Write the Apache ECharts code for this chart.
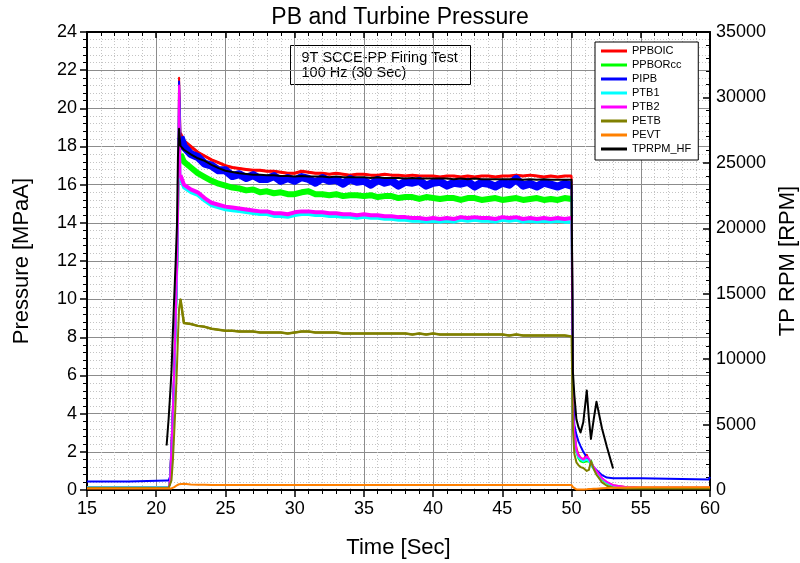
<!DOCTYPE html>
<html>
<head>
<meta charset="utf-8">
<script src="https://cdn.jsdelivr.net/npm/echarts@6/dist/echarts.min.js"></script>
<style>html,body{margin:0;padding:0;background:#fff;}#chart{width:800px;height:563px;}</style>
</head>
<body>
<div id="chart"></div>
<script>
// ---------- DATA ----------
const seriesNames = ['PPBOIC','PPBORcc','PIPB','PTB1','PTB2','PETB','PEVT','TPRPM_HF'];
const xTicks = [15,20,25,30,35,40,45,50,55,60];

// sample times [Sec]: start/rise | plateau | end/tail
const time = [
  15,18,18.05,20.75,20.9,21.0,21.1,21.2,21.3,21.4,21.5,21.57,21.65,21.75,
  22,22.5,23,23.5,24,24.5,25,25.5,26,26.5,27,27.5,28,28.5,29,29.5,30,30.5,31,31.5,32,32.5,33,33.5,34,34.5,
  35,35.5,36,36.5,37,37.5,38,38.5,39,39.5,40,40.5,41,41.5,42,42.5,43,43.5,44,44.5,45,45.5,46,46.5,47,47.5,
  48,48.5,49,49.5,50,
  50.1,50.2,50.35,50.5,50.65,50.85,51.1,51.25,51.4,51.6,51.8,52.2,52.55,53.0,54,55,55.1,59.9,60
];
// firing window (noisy, steady part of the test)
const firingStart = 21.75, firingEnd = 50;

// pressures [MPaA]
const ppboic = [
  0.15,0.15,0.15,0.15,0.15,0.5,2.2,4.1,6.2,8.7,11.4,14.2,21.6,18.7,
  18.3,18.0,17.7,17.5,17.3,17.15,17.0,16.9,16.85,16.8,16.75,16.75,16.7,16.7,16.65,16.6,16.6,16.7,16.65,16.6,
  16.6,16.55,16.6,16.55,16.5,16.55,16.55,16.5,16.5,16.55,16.5,16.5,16.45,16.5,16.45,16.45,16.45,16.4,16.45,
  16.45,16.4,16.45,16.4,16.45,16.45,16.4,16.45,16.45,16.5,16.45,16.5,16.45,16.4,16.45,16.4,16.45,16.45,
  4.6,3.1,2.2,1.85,1.7,1.6,1.85,1.55,1.35,1.15,0.95,0.6,0.4,0.25,0.15,0.12,0.12,0.12,0.12
];
const ppborcc = [
  0.15,0.15,0.15,0.15,0.15,0.45,2.1,4.0,6.0,8.5,11.2,13.9,20.0,17.6,
  17.2,16.9,16.6,16.4,16.2,16.05,15.95,15.85,15.8,15.7,15.75,15.6,15.65,15.55,15.6,15.5,15.5,15.6,15.65,15.5,
  15.5,15.45,15.5,15.4,15.45,15.45,15.4,15.45,15.35,15.4,15.4,15.3,15.35,15.35,15.25,15.35,15.3,15.25,15.3,
  15.3,15.2,15.3,15.3,15.2,15.25,15.3,15.2,15.25,15.3,15.2,15.25,15.3,15.2,15.25,15.2,15.3,15.25,
  4.2,2.8,2.0,1.65,1.5,1.45,1.5,1.5,1.55,1.15,0.9,0.55,0.35,0.2,0.12,0.1,0.1,0.1,0.1
];
const pipb = [
  0.45,0.45,0.5,0.5,0.5,0.7,2.3,4.2,6.3,8.8,11.5,14.3,21.4,18.5,
  18.0,17.6,17.45,17.1,17.0,16.75,16.75,16.45,16.55,16.35,16.5,16.3,16.3,16.45,16.2,16.35,16.2,16.4,16.3,16.1,
  16.35,16.2,16.25,16.05,16.3,16.15,16.2,16.0,16.25,16.1,16.2,15.95,16.15,16.1,16.2,15.95,16.1,16.15,15.95,
  16.1,16.05,16.15,15.9,16.1,16.05,15.9,16.1,16.0,16.3,15.95,16.05,15.9,16.1,16.0,15.9,16.05,15.95,
  5.2,3.4,2.9,2.55,2.3,2.0,1.7,1.55,1.4,1.2,1.05,0.78,0.65,0.62,0.62,0.62,0.55,0.55,0.68
];
const ptb1 = [
  0.15,0.15,0.15,0.15,0.15,0.45,2.0,3.9,5.9,8.4,11.1,13.8,20.5,16.3,
  15.85,15.6,15.45,15.15,14.9,14.8,14.7,14.65,14.6,14.55,14.5,14.45,14.45,14.35,14.35,14.3,14.4,14.45,14.45,14.4,
  14.4,14.35,14.35,14.3,14.3,14.25,14.3,14.25,14.25,14.2,14.2,14.15,14.15,14.1,14.1,14.05,14.1,14.05,14.1,
  14.05,14.15,14.1,14.15,14.1,14.1,14.05,14.15,14.1,14.15,14.05,14.1,14.05,14.1,14.05,14.1,14.05,14.05,
  4.0,2.8,2.0,1.7,1.6,1.5,1.6,1.5,1.3,1.1,0.9,0.58,0.38,0.22,0.12,0.1,0.1,0.1,0.1
];
const ptb2 = [
  0.12,0.12,0.12,0.12,0.12,0.5,2.2,4.1,6.3,8.8,11.5,14.2,21.2,16.5,
  16.0,15.75,15.6,15.3,15.05,14.95,14.85,14.8,14.75,14.7,14.65,14.6,14.6,14.5,14.5,14.45,14.55,14.6,14.6,14.55,
  14.55,14.5,14.5,14.45,14.45,14.4,14.45,14.4,14.4,14.35,14.35,14.3,14.3,14.25,14.25,14.2,14.25,14.2,14.25,
  14.2,14.3,14.25,14.3,14.25,14.25,14.2,14.3,14.25,14.3,14.2,14.25,14.2,14.25,14.2,14.25,14.2,14.25,
  4.3,3.0,2.1,1.8,1.7,1.6,1.75,1.65,1.45,1.2,1.0,0.62,0.42,0.25,0.14,0.12,0.12,0.12,0.12
];
const petb = [
  0.1,0.1,0.1,0.1,0.1,0.12,0.5,1.5,3.0,4.6,6.5,8.0,9.5,10.0,
  8.75,8.7,8.6,8.55,8.45,8.4,8.35,8.35,8.3,8.3,8.3,8.25,8.25,8.25,8.25,8.2,8.25,8.3,8.3,8.25,
  8.25,8.25,8.25,8.2,8.2,8.2,8.2,8.2,8.2,8.2,8.2,8.2,8.2,8.15,8.2,8.15,8.2,8.15,8.15,
  8.15,8.15,8.15,8.15,8.15,8.15,8.15,8.15,8.1,8.15,8.1,8.1,8.1,8.1,8.1,8.1,8.1,8.05,
  3.2,1.9,1.45,1.3,1.2,1.15,1.0,1.05,1.5,1.1,0.8,0.4,0.22,0.12,0.08,0.08,0.08,0.08,0.08
];
const pevt = [
  0.08,0.08,0.08,0.08,0.08,0.08,0.08,0.1,0.15,0.2,0.25,0.28,0.3,0.33,
  0.33,0.29,0.27,0.27,0.26,0.26,0.26,0.26,0.26,0.26,0.26,0.26,0.26,0.26,0.26,0.26,0.26,0.26,0.26,0.26,
  0.26,0.26,0.26,0.26,0.26,0.26,0.26,0.26,0.26,0.26,0.26,0.26,0.26,0.26,0.26,0.26,0.26,0.26,0.26,
  0.26,0.26,0.26,0.26,0.26,0.26,0.26,0.26,0.26,0.26,0.26,0.26,0.26,0.26,0.26,0.26,0.26,0.26,
  0.15,0.05,0.03,0.03,0.03,0.03,0.04,0.05,0.05,0.06,0.07,0.09,0.1,0.12,0.13,0.14,0.14,0.14,0.14
];
// turbine speed [RPM]
const tprpm = [
  null,null,null,3400,5500,7200,9000,12000,14700,17300,20300,25500,27600,26300,
  26000,25650,25350,25150,24850,24600,24400,24300,24200,24150,24100,24100,24050,24050,24000,24000,23950,24000,23950,23950,
  23950,23900,23950,23900,23900,23900,23900,23850,23900,23850,23850,23850,23800,23850,23800,23800,23800,23800,23800,
  23750,23800,23750,23800,23750,23750,23750,23750,23750,23750,23700,23750,23700,23750,23700,23700,23700,23700,
  9000,7300,5400,4800,4400,5200,7600,5500,3900,5400,6750,4700,3300,1650,null,null,null,null,null
];

const seriesValues = [ppboic, ppborcc, pipb, ptb1, ptb2, petb, pevt, tprpm];
const colors = ['#FF0000','#00FF00','#0000FF','#00FFFF','#FF00FF','#808000','#FF8000','#000000'];
const widths = [2, 2, 2, 2, 2, 2, 2, 2];
// thicker stroke during the noisy firing window (shows the band of 100 Hz scatter)
const bandWidths = [3, 6, 8, 3.5, 4, 2.5, 0, 0];

// ---------- CHART ----------
const FONT = 'Liberation Sans, Arial, sans-serif';
const chart = echarts.init(document.getElementById('chart'), null, {renderer: 'canvas'});

function pairs(vals, t0, t1) {
  const out = [];
  for (let i = 0; i < time.length; i++) {
    if (vals[i] === null || vals[i] === undefined) continue;
    if (t0 !== undefined && (time[i] < t0 || time[i] > t1)) continue;
    out.push([time[i], vals[i]]);
  }
  return out;
}

const series = [];
seriesNames.forEach((n, k) => {
  const base = {
    name: n, type: 'line', xAxisIndex: 0, yAxisIndex: k === 7 ? 1 : 0,
    showSymbol: false, symbol: 'none', animation: false, silent: true,
    itemStyle: {color: colors[k]}, z: 3
  };
  series.push(Object.assign({}, base, {
    data: pairs(seriesValues[k]),
    lineStyle: {color: colors[k], width: widths[k], join: 'round'}
  }));
  if (bandWidths[k] > 0) {
    series.push(Object.assign({}, base, {
      data: pairs(seriesValues[k], firingStart, firingEnd),
      lineStyle: {color: colors[k], width: bandWidths[k], join: 'round'}
    }));
  }
});

const tickLbl = {color: '#000', fontSize: 18, fontFamily: FONT};

chart.setOption({
  animation: false,
  backgroundColor: '#fff',
  title: {
    text: 'PB and Turbine Pressure', left: 'center', top: 1,
    textStyle: {fontSize: 23, fontWeight: 'normal', color: '#000', fontFamily: FONT}
  },
  grid: {left: 87, right: 90, top: 32, bottom: 73, show: false, containLabel: false, outerBoundsMode: 'none'},
  legend: {
    data: seriesNames, orient: 'vertical', left: 595, top: 42,
    padding: [2, 7, 4, 6], itemGap: 0, itemWidth: 26, itemHeight: 3, icon: 'rect',
    backgroundColor: '#fff', borderColor: '#000', borderWidth: 1,
    textStyle: {fontSize: 11, fontFamily: FONT, color: '#000', lineHeight: 14}
  },
  xAxis: [{
    type: 'value', min: 15, max: 60, interval: 5, position: 'bottom',
    name: 'Time [Sec]', nameLocation: 'middle', nameGap: 47,
    nameTextStyle: {fontSize: 22, fontFamily: FONT, color: '#000'},
    axisLine: {show: true, onZero: false, lineStyle: {color: '#000', width: 2}},
    axisTick: {show: true, inside: false, length: 7, lineStyle: {color: '#000', width: 1.5}},
    minorTick: {show: true, splitNumber: 5, length: 4, lineStyle: {color: '#000', width: 1}},
    axisLabel: Object.assign({margin: 10, formatter: v => xTicks.includes(v) ? String(v) : ''}, tickLbl),
    splitLine: {show: true, lineStyle: {color: '#8c8c8c', width: 1}},
    minorSplitLine: {show: true, lineStyle: {color: '#c4c4c4', width: 1, type: [1, 2]}}
  }, {
    type: 'value', min: 15, max: 60, interval: 5, position: 'top',
    axisLine: {show: true, onZero: false, lineStyle: {color: '#000', width: 2}},
    axisTick: {show: true, inside: true, length: 6, lineStyle: {color: '#000', width: 1.5}},
    minorTick: {show: true, splitNumber: 5, length: 4, lineStyle: {color: '#000', width: 1}},
    axisLabel: {show: false}, splitLine: {show: false}
  }],
  yAxis: [{
    type: 'value', min: 0, max: 24, interval: 2, position: 'left',
    name: 'Pressure [MPaA]', nameLocation: 'middle', nameGap: 54, nameRotate: 90,
    nameTextStyle: {fontSize: 22, fontFamily: FONT, color: '#000'},
    axisLine: {show: true, onZero: false, lineStyle: {color: '#000', width: 2}},
    axisTick: {show: true, inside: false, length: 7, lineStyle: {color: '#000', width: 1.5}},
    minorTick: {show: true, splitNumber: 5, length: 4, lineStyle: {color: '#000', width: 1}},
    axisLabel: Object.assign({margin: 10, formatter: v => String(v)}, tickLbl),
    splitLine: {show: true, lineStyle: {color: '#8c8c8c', width: 1}},
    minorSplitLine: {show: true, lineStyle: {color: '#c4c4c4', width: 1, type: [1, 2]}}
  }, {
    type: 'value', min: 0, max: 35000, interval: 5000, position: 'right',
    name: 'TP RPM [RPM]', nameLocation: 'middle', nameGap: 61, nameRotate: 90,
    nameTextStyle: {fontSize: 22, fontFamily: FONT, color: '#000'},
    axisLine: {show: true, onZero: false, lineStyle: {color: '#000', width: 2}},
    axisTick: {show: true, inside: true, length: 7, lineStyle: {color: '#000', width: 1.5}},
    minorTick: {show: true, splitNumber: 5, length: 4, lineStyle: {color: '#000', width: 1}},
    axisLabel: Object.assign({margin: 6, formatter: v => String(v)}, tickLbl),
    splitLine: {show: false}
  }],
  graphic: [{
    type: 'group', left: 290, top: 45, z: 10,
    children: [
      {type: 'rect', shape: {x: 0, y: 0, width: 180, height: 39},
       style: {fill: '#fff', stroke: '#000', lineWidth: 1}},
      {type: 'text', x: 11, y: 5,
       style: {text: '9T SCCE-PP Firing Test\n100 Hz (30 Sec)', fill: '#000',
               font: '14.5px ' + FONT, lineHeight: 15}}
    ]
  }],
  series: series
});
</script>
</body>
</html>
